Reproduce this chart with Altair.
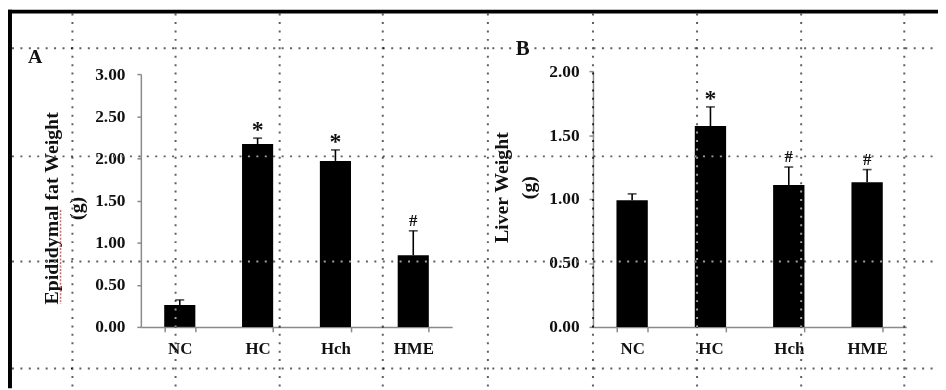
import altair as alt
import pandas as pd

# ---- data ----
categories = ["NC", "HC", "Hch", "HME"]
fat_mean = [0.26, 2.17, 1.97, 0.85]
fat_err = [0.06, 0.07, 0.13, 0.29]
fat_sig = ["", "*", "*", "#"]
liver_mean = [0.99, 1.57, 1.11, 1.13]
liver_err = [0.05, 0.15, 0.14, 0.10]
liver_sig = ["", "*", "#", "#"]
fat_ticks = [0, 0.5, 1.0, 1.5, 2.0, 2.5, 3.0]
liver_ticks = [0, 0.5, 1.0, 1.5, 2.0]

# ---- layout (pixels inside the chart) ----
W, H = 938, 382
FONT = "Liberation Serif"
sheet_x = [65, 169, 274, 378, 484, 590, 695, 800, 904]
sheet_y = [39, 148, 254, 362]


def panel(means, errs, sig, ticks, xrange, yrange, title, tx, ty, lh, lpad):
    df = pd.DataFrame({
        "group": categories,
        "mean": means,
        "top": [m + e for m, e in zip(means, errs)],
        "sig": sig,
    })
    xs = alt.Scale(range=xrange, paddingInner=0.6, paddingOuter=0.3)
    ys = alt.Scale(domain=[0, max(ticks)], range=yrange, nice=False, zero=True)
    x_axis = alt.Axis(
        title=None, orient="bottom", offset=-(H - 320), labelAngle=0,
        tickBand="extent", domainColor="#8a8a8a", domainWidth=1.5,
        tickColor="#8a8a8a", tickWidth=1.5, tickSize=5,
        labelFont=FONT, labelFontWeight="bold", labelFontSize=17,
        labelColor="#111", labelPadding=9, grid=False,
    )
    y_axis = alt.Axis(
        title=[title, "(g)"], orient="left", offset=-xrange[0], values=ticks,
        format=".2f", domainColor="#8a8a8a", domainWidth=1.5,
        tickColor="#8a8a8a", tickWidth=1.5, tickSize=4,
        labelFont=FONT, labelFontWeight="bold", labelFontSize=17.5,
        labelColor="#111", labelPadding=lpad, grid=False,
        titleFont=FONT, titleFontWeight="bold", titleFontSize=20,
        titleColor="#111", titleX=tx, titleY=ty, titleAngle=270,
        titleAlign="center", titleBaseline="middle", titleLineHeight=lh,
    )
    base = alt.Chart(df)
    xe = alt.X("group:N", sort=categories, scale=xs)
    bars = base.mark_bar(color="black").encode(
        x=alt.X("group:N", sort=categories, scale=xs, axis=x_axis),
        y=alt.Y("mean:Q", scale=ys, axis=y_axis),
    )
    err = base.mark_rule(color="black", strokeWidth=1.6).encode(
        x=xe, y=alt.Y("mean:Q", scale=ys), y2="top:Q"
    )
    caps = base.mark_tick(color="black", thickness=1.6, size=9).encode(
        x=xe, y=alt.Y("top:Q", scale=ys)
    )
    star = base.transform_filter(alt.datum.sig == "*").mark_text(
        font=FONT, fontWeight="bold", fontSize=24, baseline="alphabetic",
        dy=-1, color="#111",
    ).encode(x=xe, y=alt.Y("top:Q", scale=ys), text="sig:N")
    hashm = base.transform_filter(alt.datum.sig == "#").mark_text(
        font=FONT, fontWeight="bold", fontSize=17, baseline="alphabetic",
        dy=-5, color="#111",
    ).encode(x=xe, y=alt.Y("top:Q", scale=ys), text="sig:N")
    return alt.layer(bars, err, caps, star, hashm)


panel_a = panel(fat_mean, fat_err, fat_sig, fat_ticks, [134, 448], [320, 65],
                "Epididymal  fat Weight", -90, 200, 25, 12)
panel_b = panel(liver_mean, liver_err, liver_sig, liver_ticks, [590, 906], [320, 62],
                "Liver Weight", -92, 179, 27, 10)

one = pd.DataFrame({"k": [0]})

grid_v = alt.Chart(pd.DataFrame({"px": sheet_x})).mark_rule(
    stroke="#a0a0a0", strokeWidth=2, strokeDash=[2, 6.5], blend="difference"
).encode(x=alt.X("px:Q", scale=None, axis=None), y=alt.value(4), y2=alt.value(H))

grid_h = alt.Chart(pd.DataFrame({"py": sheet_y})).mark_rule(
    stroke="#a0a0a0", strokeWidth=2, strokeDash=[2, 6.5], blend="difference"
).encode(y=alt.Y("py:Q", scale=None, axis=None), x=alt.value(4), x2=alt.value(W))

border_top = alt.Chart(one).mark_rule(color="black", strokeWidth=4).encode(
    x=alt.value(0), x2=alt.value(W), y=alt.value(2)
)
border_left = alt.Chart(one).mark_rule(color="black", strokeWidth=4).encode(
    x=alt.value(2), y=alt.value(0), y2=alt.value(H)
)

spell = alt.Chart(one).mark_rule(color="#e06060", strokeWidth=1.5, strokeDash=[2, 1.5]).encode(
    x=alt.value(53), y=alt.value(202), y2=alt.value(297)
)

label_a = alt.Chart(one).mark_text(
    font=FONT, fontWeight="bold", fontSize=20, baseline="middle", align="center", color="#111"
).encode(x=alt.value(27.5), y=alt.value(48), text=alt.value("A"))
label_b = alt.Chart(one).mark_text(
    font=FONT, fontWeight="bold", fontSize=21, baseline="middle", align="center", color="#111"
).encode(x=alt.value(519), y=alt.value(40), text=alt.value("B"))

chart = alt.layer(
    panel_a, panel_b, grid_v, grid_h, spell, label_a, label_b, border_top, border_left
).resolve_scale(x="independent", y="independent").properties(
    width=W, height=H, padding=0, autosize=alt.AutoSizeParams(type="none"),
    background="white",
).configure_view(stroke=None)

chart.save("out.html", embed_options={"renderer": "svg", "actions": False})
